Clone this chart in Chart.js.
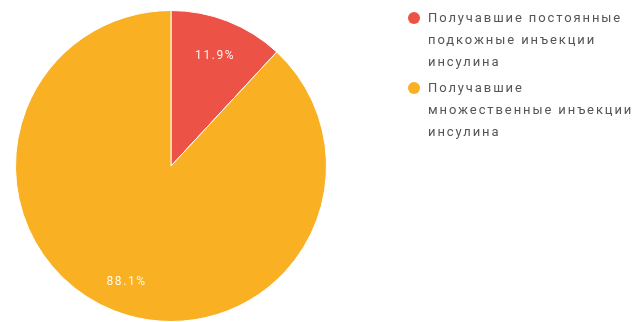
<!DOCTYPE html>
<html>
<head>
<meta charset="utf-8">
<script src="https://cdn.jsdelivr.net/npm/chart.js@4.4.1/dist/chart.umd.min.js"></script>
<style>
    html, body { margin: 0; padding: 0; background: #fff; overflow: hidden; }
    #wrap { position: relative; width: 638px; height: 322px; overflow: hidden; }
    #pieChart { position: absolute; left: 0; top: 0; }
    #legend { position: absolute; left: 407px; top: 7px; font-family: Roboto, sans-serif; font-size: 13px; color: #555; letter-spacing: 1.9px; }
    .item { position: relative; padding-left: 21px; line-height: 22px; margin-bottom: 4px; white-space: nowrap; }
    .dot { position: absolute; left: 1px; top: 5px; width: 12px; height: 12px; border-radius: 50%; }
</style>
</head>
<body>
<div id="wrap">
    <canvas id="pieChart" width="638" height="332"></canvas>
    <div id="legend"></div>
</div>
<script>
const categories = [
    ['Получавшие постоянные', 'подкожные инъекции', 'инсулина'],
    ['Получавшие', 'множественные инъекции', 'инсулина']
];
const shares = [11.9, 88.1];
const colors = ['#ec5245', '#f9b022'];

// legend on the right, one block per category
const legendBox = document.getElementById('legend');
categories.forEach((lines, i) => {
    const item = document.createElement('div');
    item.className = 'item';
    item.innerHTML = `<span class="dot" style="background:${colors[i]}"></span>${lines.join('<br>')}`;
    legendBox.appendChild(item);
});

// percentage text inside each slice
const labelDepth = [0.76, 0.80];
const sliceLabels = {
    id: 'sliceLabels',
    afterDatasetsDraw(chart) {
        const ctx = chart.ctx;
        const meta = chart.getDatasetMeta(0);
        ctx.save();
        ctx.fillStyle = 'rgba(255,255,255,0.92)';
        ctx.font = '12px Roboto, sans-serif';
        ctx.letterSpacing = '1.6px';
        ctx.textAlign = 'center';
        ctx.textBaseline = 'middle';
        meta.data.forEach((arc, i) => {
            const p = arc.getProps(['x', 'y', 'startAngle', 'endAngle', 'outerRadius'], true);
            const mid = (p.startAngle + p.endAngle) / 2;
            const r = p.outerRadius * labelDepth[i];
            ctx.fillText(shares[i].toFixed(1) + '%', p.x + Math.cos(mid) * r + 1, p.y + Math.sin(mid) * r);
        });
        ctx.restore();
    }
};

new Chart(document.getElementById('pieChart').getContext('2d'), {
    type: 'pie',
    data: {
        labels: categories.map(l => l.join(' ')),
        datasets: [{
            data: shares,
            backgroundColor: colors,
            borderColor: '#ffffff',
            borderWidth: 1
        }]
    },
    options: {
        responsive: false,
        animation: false,
        layout: { padding: { left: 15, top: 10, right: 311, bottom: 10 } },
        plugins: {
            legend: { display: false },
            tooltip: { enabled: false }
        }
    },
    plugins: [sliceLabels]
});
</script>
</body>
</html>
